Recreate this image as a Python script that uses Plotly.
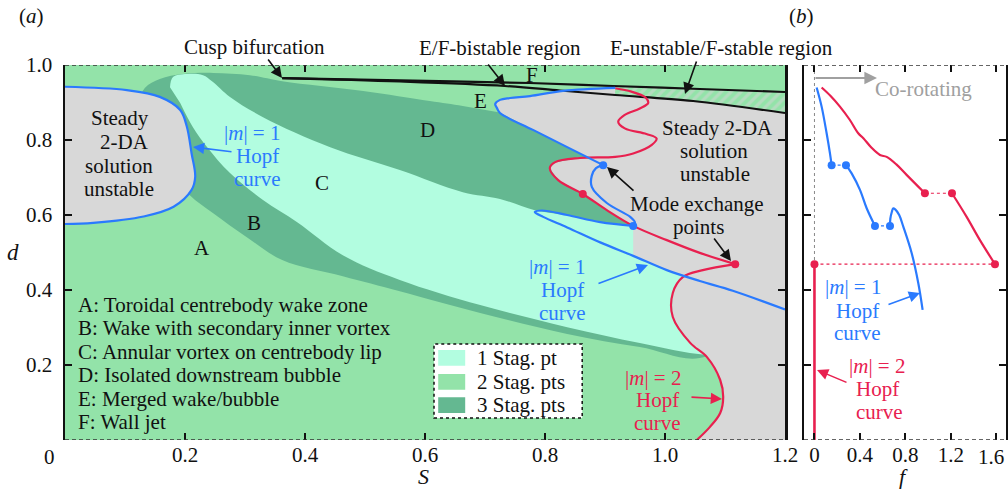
import plotly.graph_objects as go

# ---------------- DATA ----------------
# Panel (a): region boundaries in (S, d)
dark_S = [0.117, 0.133, 0.158, 0.197, 0.247, 0.308, 0.362, 0.497, 0.608, 0.663, 0.72, 0.775, 0.892, 1.2, 1.2,
          1.07, 0.958, 0.837, 0.692, 0.558, 0.463, 0.362, 0.303, 0.247, 0.208, 0.183, 0.142]
dark_d = [0.88, 0.939, 0.963, 0.976, 0.979, 0.973, 0.957, 0.931, 0.904, 0.891, 0.875, 0.859, 0.827, 0.773, 0.48,
          0.224, 0.248, 0.283, 0.339, 0.397, 0.437, 0.48, 0.541, 0.605, 0.653, 0.707, 0.827]

mint_S = [0.175, 0.18, 0.203, 0.23, 0.245, 0.275, 0.33, 0.442, 0.558, 0.663, 0.725, 0.783, 0.837, 0.892, 0.947,
          1.058, 1.2, 1.2, 1.07, 0.958, 0.837, 0.692, 0.558, 0.463, 0.387, 0.33, 0.275, 0.237, 0.213, 0.192]
mint_d = [0.941, 0.968, 0.976, 0.973, 0.957, 0.915, 0.861, 0.781, 0.72, 0.661, 0.643, 0.613, 0.6, 0.581, 0.571,
          0.507, 0.453, 0.227, 0.227, 0.259, 0.301, 0.36, 0.427, 0.493, 0.581, 0.64, 0.712, 0.781, 0.835, 0.899]

blob_S = [0.0, 0.103, 0.158, 0.192, 0.203, 0.211, 0.217, 0.211, 0.181, 0.131, 0.047, 0.0]
blob_d = [0.942, 0.933, 0.915, 0.88, 0.836, 0.764, 0.702, 0.667, 0.622, 0.596, 0.579, 0.576]

grayR_S = [0.872, 0.837, 0.78, 0.725, 0.72, 0.717, 0.725, 0.742, 0.775, 0.83, 0.917, 0.917, 1.047, 1.2, 1.2,
           1.053, 1.075, 1.092, 1.097, 1.092, 1.07, 1.042, 1.013, 1.013, 1.028, 1.003, 0.947, 0.947, 0.903,
           0.863, 0.822, 0.808, 0.817, 0.858]
grayR_d = [0.753, 0.781, 0.827, 0.872, 0.885, 0.896, 0.907, 0.912, 0.917, 0.931, 0.939, 0.92, 0.904, 0.872, 0.0,
           0.0, 0.035, 0.072, 0.115, 0.16, 0.221, 0.259, 0.328, 0.392, 0.438, 0.453, 0.491, 0.571, 0.613,
           0.656, 0.693, 0.725, 0.741, 0.752]

hatch_S = [0.917, 1.058, 1.2, 1.2, 1.047, 0.917]
hatch_d = [0.944, 0.936, 0.928, 0.872, 0.904, 0.92]

# black E/F boundaries from the cusp
blkU_S = [0.362, 0.558, 0.775, 0.913, 1.058, 1.2]
blkU_d = [0.965, 0.959, 0.952, 0.944, 0.936, 0.928]
blkL_S = [0.362, 0.558, 0.733, 0.825, 0.917, 1.047, 1.2]
blkL_d = [0.965, 0.956, 0.944, 0.932, 0.92, 0.904, 0.872]

# |m|=1 Hopf curve (blue), right part, split at mode-exchange points
blue1_S = [0.917, 0.83, 0.775, 0.742, 0.725, 0.717, 0.72, 0.725, 0.78, 0.837, 0.897]
blue1_d = [0.939, 0.931, 0.917, 0.912, 0.907, 0.896, 0.885, 0.872, 0.827, 0.781, 0.733]
blue2_S = [0.897, 0.885, 0.878, 0.878, 0.903, 0.942, 0.95, 0.947]
blue2_d = [0.733, 0.725, 0.705, 0.675, 0.632, 0.595, 0.58, 0.571]
blue3_S = [0.947, 0.892, 0.837, 0.795, 0.783, 0.797, 0.837, 0.892, 0.947, 1.003, 1.058, 1.113, 1.2]
blue3_d = [0.571, 0.581, 0.6, 0.612, 0.608, 0.595, 0.567, 0.527, 0.491, 0.453, 0.424, 0.398, 0.348]

# |m|=2 Hopf curve (red)
red1_S = [0.917, 0.944, 0.967, 0.972, 0.958, 0.933, 0.922, 0.933, 0.969, 0.986, 0.978, 0.947, 0.917, 0.858,
          0.817, 0.808, 0.822, 0.863, 0.903, 0.947, 1.003, 1.058, 1.117]
red1_d = [0.938, 0.929, 0.914, 0.899, 0.884, 0.867, 0.849, 0.831, 0.816, 0.804, 0.787, 0.764, 0.755, 0.752,
          0.741, 0.725, 0.693, 0.656, 0.613, 0.571, 0.533, 0.499, 0.469]
red2_S = [1.117, 1.063, 1.03, 1.013, 1.013, 1.042, 1.07, 1.092, 1.097, 1.092, 1.075, 1.053]
red2_d = [0.469, 0.453, 0.435, 0.392, 0.328, 0.259, 0.221, 0.16, 0.115, 0.072, 0.035, 0.0]

# mode-exchange points
bdot_S = [0.897, 0.947]
bdot_d = [0.733, 0.571]
rdot_S = [0.863, 1.117]
rdot_d = [0.656, 0.469]

# Panel (b): frequency f versus d
fb1 = [0.019, 0.063, 0.107, 0.136, 0.151]
db1 = [0.94, 0.889, 0.818, 0.765, 0.733]
fb2 = [0.277, 0.327, 0.4, 0.459, 0.532]
db2 = [0.733, 0.711, 0.667, 0.618, 0.571]
fb3 = [0.664, 0.667, 0.68, 0.693, 0.71, 0.745, 0.781, 0.855, 0.913, 0.951]
db3 = [0.571, 0.59, 0.608, 0.618, 0.615, 0.6, 0.569, 0.498, 0.418, 0.347]
fbdot = [0.151, 0.277, 0.532, 0.664]
dbdot = [0.733, 0.733, 0.571, 0.571]

fr1 = [0.063, 0.14, 0.224, 0.31, 0.385, 0.43, 0.5, 0.576, 0.635, 0.72, 0.81, 0.971]
dr1 = [0.94, 0.918, 0.889, 0.854, 0.818, 0.805, 0.78, 0.76, 0.755, 0.735, 0.707, 0.658]
fr2 = [1.209, 1.338, 1.455, 1.587]
dr2 = [0.658, 0.595, 0.533, 0.469]
fr3 = [0.0, 0.0]
dr3 = [0.0, 0.469]
frdot = [0.971, 1.209, 1.587, 0.0]
drdot = [0.658, 0.658, 0.469, 0.469]

S_ticks = [0.2, 0.4, 0.6, 0.8, 1.0, 1.2]
S_labels = ["0.2", "0.4", "0.6", "0.8", "1.0", "1.2"]
d_ticks = [0.2, 0.4, 0.6, 0.8, 1.0]
d_labels = ["0.2", "0.4", "0.6", "0.8", "1.0"]
f_ticks = [0, 0.4, 0.8, 1.2, 1.6]
f_labels = ["0", "0.4", "0.8", "1.2", ""]   # last label ("1.6") drawn nudged inside the page
f_last_label = "1.6"
f_range = [-0.092, 1.684]

region_list = ["A: Toroidal centrebody wake zone", "B: Wake with secondary inner vortex",
               "C: Annular vortex on centrebody lip", "D: Isolated downstream bubble",
               "E: Merged wake/bubble", "F: Wall jet"]
legend_items = ["1 Stag. pt", "2 Stag. pts", "3 Stag. pts"]

# ---------------- STYLE ----------------
W, H = 1008, 490
PL, PT, PW, PH = 65, 65, 941, 375   # plot area in window pixels
ML, MT = PL, PT
MR = W - ML - PW
MB = H - MT - PH
FONT = "Liberation Serif, DejaVu Serif, Times New Roman, serif"
BLACK = "#111111"
BLUE = "#2a7afe"
RED = "#e8204f"
GRAY = "#d8d8d8"
G1 = "#b2fde0"
G2 = "#93e3a9"
G3 = "#64b891"
FS = 21


def px(x):
    return (x - PL) / PW


def py(y):
    return (PT + PH - y) / PH


fig = go.Figure()


def area(S, D, color, shape="linear", xa="x", ya="y", pattern=None):
    kw = {}
    if pattern:
        kw["fillpattern"] = pattern
    fig.add_trace(go.Scatter(x=S, y=D, xaxis=xa, yaxis=ya, fill="toself", fillcolor=color, mode="lines",
                             line=dict(width=0, color=color, shape=shape), hoverinfo="skip",
                             showlegend=False, **kw))


def curve(S, D, color, width=2.2, dash="solid", xa="x", ya="y", shape="spline"):
    fig.add_trace(go.Scatter(x=S, y=D, xaxis=xa, yaxis=ya, mode="lines",
                             line=dict(color=color, width=width, dash=dash, shape=shape),
                             hoverinfo="skip", showlegend=False))


def dots(S, D, color, xa="x", ya="y"):
    fig.add_trace(go.Scatter(x=S, y=D, xaxis=xa, yaxis=ya, mode="markers",
                             marker=dict(color=color, size=8), hoverinfo="skip", showlegend=False))


# base colour of panel (a)
area([0, 1.2, 1.2, 0], [0, 0, 1, 1], G2)
area(dark_S, dark_d, G3, shape="spline")
area(mint_S, mint_d, G1, shape="spline")
area(blob_S, blob_d, GRAY, shape="spline")
area(grayR_S, grayR_d, GRAY)
area(hatch_S, hatch_d, G2, pattern=dict(shape="/", fgcolor="#d6d6d6", bgcolor=G2, size=7, solidity=0.45))

curve(blkU_S, blkU_d, BLACK, width=2.2)
curve(blkL_S, blkL_d, BLACK, width=2.2)
curve(blob_S, blob_d, BLUE)
curve(red1_S, red1_d, RED)
curve(red2_S, red2_d, RED)
curve(blue1_S, blue1_d, BLUE)
curve(blue2_S, blue2_d, BLUE)
curve(blue3_S, blue3_d, BLUE)
dots(bdot_S, bdot_d, BLUE)
dots(rdot_S, rdot_d, RED)

# panel (b)
curve([0, 0], [0, 1], "#888888", width=1, dash="dot", xa="x2", ya="y2", shape="linear")
curve([frdot[3], frdot[2]], [drdot[3], drdot[2]], RED, width=1.2, dash="dot", xa="x2", ya="y2", shape="linear")
curve([frdot[0], frdot[1]], [drdot[0], drdot[1]], RED, width=1.2, dash="dot", xa="x2", ya="y2", shape="linear")
curve([fbdot[0], fbdot[1]], [dbdot[0], dbdot[1]], BLUE, width=1.2, dash="dot", xa="x2", ya="y2", shape="linear")
curve([fbdot[2], fbdot[3]], [dbdot[2], dbdot[3]], BLUE, width=1.2, dash="dot", xa="x2", ya="y2", shape="linear")
curve(fr1, dr1, RED, xa="x2", ya="y2")
curve(fr2, dr2, RED, xa="x2", ya="y2")
curve(fr3, dr3, RED, width=2.6, xa="x2", ya="y2", shape="linear")
curve(fb1, db1, BLUE, xa="x2", ya="y2")
curve(fb2, db2, BLUE, xa="x2", ya="y2")
curve(fb3, db3, BLUE, xa="x2", ya="y2")
dots(fbdot, dbdot, BLUE, xa="x2", ya="y2")
dots(frdot, drdot, RED, xa="x2", ya="y2")

# ---------------- AXES ----------------
tickfont = dict(family=FONT, size=FS, color=BLACK)
common = dict(showgrid=False, zeroline=False, ticks="inside", ticklen=7, tickwidth=2, tickcolor=BLACK,
              tickfont=tickfont, fixedrange=True, ticklabeloverflow="allow")
fig.update_layout(
    width=W, height=H, autosize=False, margin=dict(l=ML, r=MR, t=MT, b=MB, pad=0, autoexpand=False),
    paper_bgcolor="white", plot_bgcolor="white", showlegend=False,
    xaxis=dict(domain=[0, 720 / PW], range=[0, 1.2], tickvals=S_ticks, ticktext=S_labels,
               showline=False, mirror="ticks", anchor="y", **common),
    yaxis=dict(domain=[0, 1], range=[0, 1], tickvals=d_ticks, ticktext=d_labels,
               showline=True, linewidth=2.5, linecolor=BLACK, mirror="ticks", anchor="x",
               ticklabelstandoff=6, **common),
    xaxis2=dict(domain=[739 / PW, 1], range=f_range, tickvals=f_ticks, ticktext=f_labels,
                showline=False, mirror="ticks", anchor="y2", **common),
    yaxis2=dict(domain=[0, 1], range=[0, 1], tickvals=d_ticks[:-1], showticklabels=False,
                showline=True, linewidth=2.5, linecolor=BLACK, mirror="ticks", anchor="x2", **common),
)

# dashed top/bottom frame
for xr, yr, x0, x1 in [("x", "y", 0, 1.2), ("x2", "y2", f_range[0], f_range[1])]:
    for yv in (0, 1):
        fig.add_shape(type="line", xref=xr, yref=yr, x0=x0, x1=x1, y0=yv, y1=yv,
                      line=dict(color="#333333", width=1.5, dash="4px,3px"))

# legend box
fig.add_shape(type="rect", xref="x", yref="y", x0=0.615, x1=0.862, y0=0.059, y1=0.256,
              fillcolor="white", line=dict(color=BLACK, width=1.5, dash="dot"))
leg_y = [0.219, 0.155, 0.093]
for c, yv, t in zip([G1, G2, G3], leg_y, legend_items):
    fig.add_shape(type="rect", xref="x", yref="y", x0=0.622, x1=0.667, y0=yv - 0.021, y1=yv + 0.021,
                  fillcolor=c, line=dict(width=0))
    fig.add_annotation(x=0.683, y=yv, xref="x", yref="y", text=t, showarrow=False, xanchor="left",
                       yanchor="middle", font=dict(family=FONT, size=FS, color=BLACK))


def label(x, y, text, color=BLACK, xanchor="center", size=FS):
    fig.add_annotation(x=px(x), y=py(y), xref="paper", yref="paper", text=text, showarrow=False,
                       xanchor=xanchor, yanchor="middle", font=dict(family=FONT, size=size, color=color))


def arrow(tip, tail, color=BLACK, width=1.6):
    fig.add_annotation(x=px(tip[0]), y=py(tip[1]), xref="paper", yref="paper", text="",
                       ax=tail[0] - tip[0], ay=tail[1] - tip[1], axref="pixel", ayref="pixel",
                       showarrow=True, arrowhead=2, arrowsize=1.4, arrowwidth=width, arrowcolor=color)


# panel letters and axis titles
label(31, 16, "(<i>a</i>)")
label(801, 16, "(<i>b</i>)")
label(49, 457, "0")
label(1006, 457, f_last_label, xanchor="right")
label(423, 476, "<i>S</i>", size=22)
label(903, 476, "<i>f</i>", size=22)
label(13, 252, "<i>d</i>", size=23)

# top annotations
label(254, 47, "Cusp bifurcation")
arrow((282, 78), (267, 58))
label(500, 48, "E/F-bistable region")
arrow((505, 86), (487, 63))
label(721, 48, "E-unstable/F-stable region")
arrow((685, 94), (697, 60))

# region letters
for t, x, y in [("F", 532, 75), ("E", 480, 101), ("D", 427, 130), ("C", 322, 183), ("B", 254, 223),
                ("A", 202, 248)]:
    label(x, y, t)

# region list
for i, t in enumerate(region_list):
    label(76, 305 + i * 23.4, t, xanchor="left")

# left unstable region
for t, x, y in [("Steady", 120, 118), ("2-DA", 124, 142), ("solution", 119, 166), ("unstable", 119, 189)]:
    label(x, y, t)
for t, x, y in [("|<i>m</i>| = 1", 252, 133), ("Hopf", 257, 156), ("curve", 257, 179)]:
    label(x, y, t, color=BLUE)
arrow((193, 147), (233, 152), BLUE)

# right unstable region
for t, x, y in [("Steady 2-DA", 717, 128), ("solution", 714, 151), ("unstable", 715, 174)]:
    label(x, y, t)
label(697, 204, "Mode exchange")
label(698, 227, "points")
arrow((607, 167), (635, 192))
arrow((731, 261), (713, 237))

for t, x, y in [("|<i>m</i>| = 1", 557, 267), ("Hopf", 562, 290), ("curve", 562, 313)]:
    label(x, y, t, color=BLUE)
arrow((648, 265), (597, 284), BLUE)
for t, x, y in [("|<i>m</i>| = 2", 653, 378), ("Hopf", 657, 400), ("curve", 657, 423)]:
    label(x, y, t, color=RED)
arrow((722, 399), (690, 397), RED)

# panel (b) annotations
label(923, 89, "Co-rotating", color="#a0a0a0")
arrow((877, 78), (814, 78), "#a0a0a0", width=1.8)
for t, x, y in [("|<i>m</i>| = 1", 853, 287), ("Hopf", 857, 311), ("curve", 857, 333)]:
    label(x, y, t, color=BLUE)
arrow((920, 293), (887, 305), BLUE)
for t, x, y in [("|<i>m</i>| = 2", 877, 366), ("Hopf", 877, 389), ("curve", 879, 412)]:
    label(x, y, t, color=RED)
arrow((817, 370), (848, 383), RED)

post = ("document.documentElement.style.overflow='hidden';"
        "document.body.style.margin='0px';document.body.style.overflow='hidden';"
        "var gd=document.getElementById('{plot_id}');"
        "gd.style.width='1008px';gd.style.height='490px';"
        "Plotly.relayout(gd,{width:1008,height:490});")
fig.write_html("out.html", config={"displayModeBar": False, "staticPlot": True, "responsive": False},
               post_script=post)
